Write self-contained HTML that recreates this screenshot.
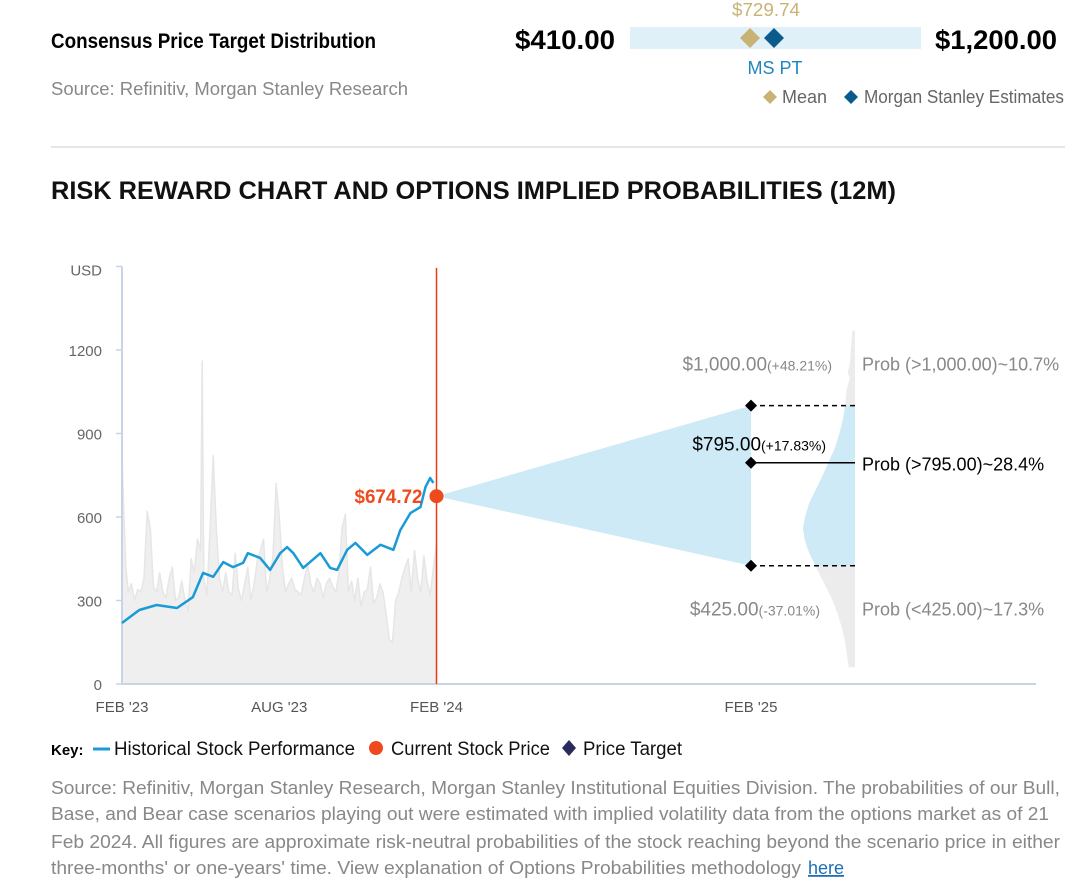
<!DOCTYPE html>
<html><head><meta charset="utf-8"><style>
html,body{margin:0;padding:0;background:#fff;}
svg{display:block;font-family:"Liberation Sans Narrow","Liberation Sans",sans-serif;}
</style></head><body>
<svg id="c" width="1080" height="894" viewBox="0 0 1080 894" xmlns="http://www.w3.org/2000/svg">
<g>
<text x="51" y="48" font-size="21" font-weight="bold" fill="#000" textLength="325" lengthAdjust="spacingAndGlyphs">Consensus Price Target Distribution</text>
<text x="51" y="95" font-size="18" fill="#888" textLength="357" lengthAdjust="spacingAndGlyphs">Source: Refinitiv, Morgan Stanley Research</text>
<text x="515" y="49" font-size="27" font-weight="bold" fill="#000" textLength="100" lengthAdjust="spacingAndGlyphs">$410.00</text>
<rect x="630" y="27" width="291" height="22" fill="#dff0f8"/>
<text x="935" y="49" font-size="27" font-weight="bold" fill="#000" textLength="122" lengthAdjust="spacingAndGlyphs">$1,200.00</text>
<text x="766" y="16" font-size="18" fill="#c9b374" text-anchor="middle" textLength="68" lengthAdjust="spacingAndGlyphs">$729.74</text>
<path d="M750 28 L760 38 L750 48 L740 38 Z" fill="#c9b374"/>
<path d="M774 28 L784 38 L774 48 L764 38 Z" fill="#0b5a8c"/>
<text x="775" y="74" font-size="18" fill="#1f86c0" text-anchor="middle">MS PT</text>
<path d="M770 90 L777 97 L770 104 L763 97 Z" fill="#c9b374"/>
<text x="782" y="103" font-size="18" fill="#666">Mean</text>
<path d="M851 90 L858 97 L851 104 L844 97 Z" fill="#0b5a8c"/>
<text x="864" y="103" font-size="18" fill="#666" textLength="200" lengthAdjust="spacingAndGlyphs">Morgan Stanley Estimates</text>
</g>
<line x1="51" y1="147" x2="1065" y2="147" stroke="#ddd" stroke-width="1.5"/>
<text x="51" y="199" font-size="25" font-weight="bold" fill="#111" font-family="Liberation Sans, sans-serif" textLength="845" lengthAdjust="spacingAndGlyphs">RISK REWARD CHART AND OPTIONS IMPLIED PROBABILITIES (12M)</text>
<g id="plot"></g>
<g>
<text x="51" y="755" font-size="15" font-weight="bold" fill="#000">Key:</text>
<line x1="93" y1="749" x2="110" y2="749" stroke="#1a9bd7" stroke-width="3"/>
<text x="114" y="755" font-size="19" fill="#111" textLength="241" lengthAdjust="spacingAndGlyphs">Historical Stock Performance</text>
<circle cx="376" cy="748" r="7" fill="#ee4a1d"/>
<text x="391" y="755" font-size="19" fill="#111" textLength="159" lengthAdjust="spacingAndGlyphs">Current Stock Price</text>
<path d="M569 740 L576 748 L569 756 L562 748 Z" fill="#2a2a5e"/>
<text x="583" y="755" font-size="19" fill="#111" textLength="99" lengthAdjust="spacingAndGlyphs">Price Target</text>
</g>
<g font-size="18" fill="#888">
<text x="51" y="794" textLength="1009" lengthAdjust="spacingAndGlyphs">Source: Refinitiv, Morgan Stanley Research, Morgan Stanley Institutional Equities Division. The probabilities of our Bull,</text>
<text x="51" y="820" textLength="998" lengthAdjust="spacingAndGlyphs">Base, and Bear case scenarios playing out were estimated with implied volatility data from the options market as of 21</text>
<text x="51" y="848" textLength="1009" lengthAdjust="spacingAndGlyphs">Feb 2024. All figures are approximate risk-neutral probabilities of the stock reaching beyond the scenario price in either</text>
<text x="51" y="874" textLength="750" lengthAdjust="spacingAndGlyphs">three-months' or one-years' time. View explanation of Options Probabilities methodology</text>
<text x="808" y="874" fill="#1f6fb5" text-decoration="underline">here</text>
</g>
</svg>
<script>
const yTicks=[0,300,600,900,1200];
const xTickLabels=["FEB '23","AUG '23","FEB '24","FEB '25"];
const xTickYears=[0,0.5,1,2];
const priceT=[0,0.055,0.11,0.175,0.225,0.258,0.29,0.322,0.353,0.385,0.4,0.439,0.471,0.503,0.525,0.545,0.576,0.631,0.662,0.684,0.716,0.742,0.78,0.822,0.863,0.885,0.917,0.949,0.965,0.98,0.99];
const priceV=[219,266,284,273,312,399,385,438,420,435,470,453,410,470,492,470,417,470,417,410,482,507,464,500,482,553,614,636,708,740,722];
const currentPrice=674.72;
const volT=[0,0.005,0.012,0.02,0.03,0.04,0.05,0.06,0.07,0.08,0.09,0.1,0.11,0.12,0.13,0.14,0.15,0.16,0.17,0.18,0.19,0.2,0.21,0.22,0.23,0.24,0.25,0.255,0.26,0.27,0.28,0.29,0.3,0.31,0.32,0.33,0.34,0.35,0.36,0.37,0.38,0.39,0.4,0.41,0.42,0.43,0.44,0.45,0.46,0.47,0.48,0.49,0.5,0.51,0.52,0.53,0.54,0.55,0.56,0.57,0.58,0.59,0.6,0.61,0.62,0.63,0.64,0.65,0.66,0.67,0.68,0.69,0.7,0.71,0.72,0.73,0.74,0.75,0.76,0.77,0.78,0.79,0.8,0.81,0.82,0.83,0.84,0.85,0.86,0.87,0.88,0.89,0.9,0.91,0.92,0.93,0.94,0.95,0.96,0.97,0.98,0.99,1.0];
const volV=[830,640,420,330,360,300,340,330,380,620,560,350,330,400,330,310,380,420,300,310,370,300,260,450,400,520,480,1160,380,320,560,820,560,380,330,400,330,320,470,340,300,360,420,300,360,440,480,520,330,380,460,720,600,420,330,360,380,340,330,320,380,430,360,330,380,360,310,360,380,350,330,400,560,610,330,370,300,380,280,330,340,420,290,310,360,330,250,160,150,300,330,380,420,450,330,480,380,330,460,370,320,420,500];
const scenLabels=["$1,000.00","$795.00","$425.00"];
const scenPct=["(+48.21%)","(+17.83%)","(-37.01%)"];
const scenV=[1000,795,425];
const probLabels=["Prob (>1,000.00)~10.7%","Prob (>795.00)~28.4%","Prob (<425.00)~17.3%"];
const distV=[1270,1200,1150,1120,1100,1060,1000,950,900,850,800,750,700,650,600,560,520,480,440,400,350,300,250,200,150,100,60];
const distW=[0.05,0.08,0.1,0.14,0.1,0.16,0.19,0.23,0.3,0.38,0.5,0.62,0.75,0.88,0.96,1.0,0.97,0.9,0.8,0.7,0.56,0.43,0.33,0.25,0.19,0.15,0.12];

const NS="http://www.w3.org/2000/svg";
const g=document.getElementById('plot');
const X0=122,YRPX=314.5,Y0=684,PPU=83.5/300;
const xs=t=>X0+t*YRPX, ys=v=>Y0-v*PPU;
function el(tag,attrs,parent){const e=document.createElementNS(NS,tag);for(const k in attrs)e.setAttribute(k,attrs[k]);(parent||g).appendChild(e);return e;}

// volume area
let d='M'+xs(volT[0])+' '+Y0;
volT.forEach((t,i)=>{d+=' L'+xs(t).toFixed(1)+' '+ys(volV[i]).toFixed(1);});
d+=' L'+xs(volT[volT.length-1])+' '+Y0+' Z';
const va=el('path',{d:d,fill:'#efefef',stroke:'#e6e6e6','stroke-width':1.5,'stroke-linejoin':'round'});


// axes
const ax=el('line',{x1:X0,y1:ys(1500),x2:X0,y2:Y0+1,stroke:'#c9d3e6','stroke-width':2});


const xa=el('line',{x1:X0,y1:Y0,x2:1036,y2:Y0,stroke:'#c9d3e6','stroke-width':2});


const ul=el('text',{x:X0-20,y:ys(1500)+9,'font-size':15,fill:'#666','text-anchor':'end'});ul.textContent='USD';


yTicks.concat([1500]).forEach(v=>{
 const t=el('line',{x1:X0-6,y1:ys(v),x2:X0,y2:ys(v),stroke:'#c9d3e6','stroke-width':1.5});
 
 
});
yTicks.forEach(v=>{
 const l=el('text',{x:X0-20,y:ys(v)+6,'font-size':15,fill:'#666','text-anchor':'end'});l.textContent=v;
 
 
});
xTickLabels.forEach((s,i)=>{
 const l=el('text',{x:xs(xTickYears[i]),y:Y0+28,'font-size':15,fill:'#555','text-anchor':'middle'});l.textContent=s;
 
 
});
// cone
const cone=el('path',{d:`M${xs(1)} ${ys(currentPrice)} L${xs(2)} ${ys(scenV[0])} L${xs(2)} ${ys(scenV[2])} Z`,fill:'#cdeaf6'});


// distribution
const DX=855,DW=52;
let dd='M'+DX+' '+ys(distV[0]).toFixed(1);
distV.forEach((v,i)=>{dd+=' L'+(DX-distW[i]*DW).toFixed(1)+' '+ys(v).toFixed(1);});
dd+=' L'+DX+' '+ys(distV[distV.length-1]).toFixed(1)+' Z';
const cp=el('clipPath',{id:'cp'});
el('rect',{x:700,y:ys(scenV[0]),width:155,height:ys(scenV[2])-ys(scenV[0])},cp);
const dist=el('path',{d:dd,fill:'#ececec','stroke-linejoin':'round'});


const dist2=el('path',{d:dd,fill:'#cdeaf6','clip-path':'url(#cp)'});


// price line
let pd='';
priceT.forEach((t,i)=>{pd+=(i?' L':'M')+xs(t).toFixed(1)+' '+ys(priceV[i]).toFixed(1);});
const pl=el('path',{d:pd,fill:'none',stroke:'#1a9bd7','stroke-width':2.5,'stroke-linejoin':'round'});


// current line
const vl=el('line',{x1:xs(1),y1:ys(1495),x2:xs(1),y2:Y0,stroke:'#ee3a10','stroke-width':1.5});


const cd=el('circle',{cx:xs(1),cy:ys(currentPrice),r:7,fill:'#ee4a1d'});


const cl=el('text',{x:xs(1)-14,y:ys(currentPrice)+7,'font-size':19,fill:'#ee4a1d','text-anchor':'end','font-weight':'bold','font-family':'Liberation Sans, sans-serif',textLength:68,lengthAdjust:'spacingAndGlyphs'});cl.textContent='$'+currentPrice.toFixed(2);


// scenarios
const lblY=[ys(scenV[0])-35,ys(scenV[1])-12,ys(scenV[2])+50];
scenV.forEach((v,i)=>{
 const y=ys(v);
 const ln=el('line',{x1:xs(2),y1:y,x2:DX,y2:y,stroke:'#000','stroke-width':1.5,'stroke-dasharray':i===1?'none':'5,4'});
 
 
 const dm=el('path',{d:`M${xs(2)} ${y-6} L${xs(2)+6} ${y} L${xs(2)} ${y+6} L${xs(2)-6} ${y} Z`,fill:'#000'});
 
 
 const col=i===1?'#000':'#888';
 const t=el('text',{x:i===0?832:(i===1?826:820),y:lblY[i],'font-size':19,fill:col,'text-anchor':'end','font-family':'Liberation Sans, sans-serif'});
 const a=el('tspan',{},t);a.textContent=scenLabels[i];
 const b=el('tspan',{'font-size':14},t);b.textContent=scenPct[i];
 
 
 const p=el('text',{x:862,y:i===1?lblY[i]+20:lblY[i],'font-size':18,fill:col,'font-family':'Liberation Sans, sans-serif'});p.textContent=probLabels[i];
 
 
});
</script>
</body></html>
